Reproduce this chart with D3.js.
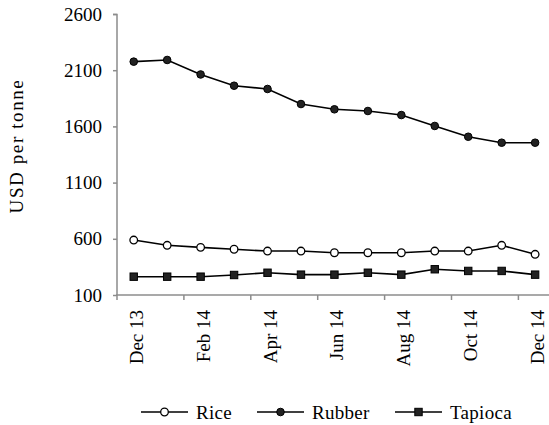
<!DOCTYPE html>
<html>
<head>
<meta charset="utf-8">
<script src="https://cdn.jsdelivr.net/npm/d3@7"></script>
<style>
  html, body { margin: 0; padding: 0; background: #fff; }
  svg { display: block; }
</style>
</head>
<body>
<svg id="chart" width="549" height="425"></svg>
<script>
const months = ["Dec 13","Jan 14","Feb 14","Mar 14","Apr 14","May 14","Jun 14","Jul 14","Aug 14","Sep 14","Oct 14","Nov 14","Dec 14"];
const rice = [589, 542, 524, 507, 491, 491, 476, 476, 476, 491, 491, 542, 462];
const rubber = [2176, 2191, 2062, 1962, 1933, 1799, 1752, 1737, 1701, 1604, 1508, 1455, 1455];
const tapioca = [263, 263, 263, 278, 298, 281, 281, 298, 281, 329, 314, 314, 281];
const yTicks = [100, 600, 1100, 1600, 2100, 2600];
const seriesNames = ["Rice", "Rubber", "Tapioca"];

const FONT = "'Liberation Serif', 'Times New Roman', Times, 'DejaVu Serif', serif";
const svg = d3.select("#chart");
const axisColor = "#8c8c8c";

const x = d3.scaleBand().domain(months).range([117, 117 + 13 * 33.45]);
const y = d3.scaleLinear().domain([100, 2600]).range([295, 14]);

// Y axis
const yAxis = d3.axisLeft(y).tickValues(yTicks).tickSize(4).tickPadding(11).tickFormat(d3.format("d"));
const gy = svg.append("g").attr("transform", "translate(117,0)").call(yAxis);
gy.attr("font-family", null);
gy.select(".domain").attr("stroke", axisColor).attr("stroke-width", 1.5).attr("d", "M-4,14.5H0V295");
gy.selectAll(".tick line").attr("stroke", axisColor).attr("stroke-width", 1.5);
gy.selectAll(".tick text").attr("font-size", 19).style("font-family", FONT).attr("fill", "#000");

// X axis
const boundaryIdx = [0, 2, 4, 6, 8, 10, 12];
const gx = svg.append("g");
gx.append("line").attr("x1", 116).attr("x2", 549).attr("y1", 295).attr("y2", 295)
  .attr("stroke", axisColor).attr("stroke-width", 1.5);
gx.selectAll("line.tk").data(boundaryIdx).enter().append("line").attr("class", "tk")
  .attr("x1", d => x(months[d])).attr("x2", d => x(months[d]))
  .attr("y1", 295).attr("y2", 300).attr("stroke", axisColor).attr("stroke-width", 1.5);
gx.selectAll("text").data(boundaryIdx).enter().append("text")
  .attr("transform", d => `translate(${x(months[d]) + x.bandwidth() / 2 + 9},310) rotate(-90)`)
  .attr("text-anchor", "end")
  .attr("font-size", 19)
  .style("font-family", FONT)
  .text(d => months[d]);

// Y label
svg.append("text")
  .attr("transform", "translate(23,146) rotate(-90)")
  .attr("text-anchor", "middle")
  .attr("font-size", 19)
  .style("font-family", FONT)
  .attr("letter-spacing", 1.6)
  .text("USD per tonne");

const cx = m => x(m) + x.bandwidth() / 2;
const line = d3.line().x((d, i) => cx(months[i])).y(d => y(d));

function drawSeries(data, marker) {
  svg.append("path").datum(data).attr("d", line)
    .attr("fill", "none").attr("stroke", "#000").attr("stroke-width", 1.6);
  const g = svg.append("g");
  data.forEach((v, i) => drawMarker(g, marker, cx(months[i]), y(v)));
}
function drawMarker(g, marker, px, py) {
  if (marker === "open") {
    g.append("circle").attr("cx", px).attr("cy", py).attr("r", 3.8)
      .attr("fill", "#fff").attr("stroke", "#000").attr("stroke-width", 1.3);
  } else if (marker === "filled") {
    g.append("circle").attr("cx", px).attr("cy", py).attr("r", 3.8)
      .attr("fill", "#222").attr("stroke", "#000").attr("stroke-width", 1);
  } else {
    g.append("rect").attr("x", px - 3.7).attr("y", py - 3.7).attr("width", 7.4).attr("height", 7.4)
      .attr("fill", "#222").attr("stroke", "#000").attr("stroke-width", 1);
  }
}

drawSeries(rice, "open");
drawSeries(rubber, "filled");
drawSeries(tapioca, "square");

// Legend
const legend = [
  {name: seriesNames[0], marker: "open", x1: 141, tx: 196},
  {name: seriesNames[1], marker: "filled", x1: 257, tx: 312},
  {name: seriesNames[2], marker: "square", x1: 395, tx: 450}
];
const lg = svg.append("g");
legend.forEach(l => {
  lg.append("line").attr("x1", l.x1).attr("x2", l.x1 + 47).attr("y1", 412).attr("y2", 412)
    .attr("stroke", "#000").attr("stroke-width", 1.6);
  drawMarker(lg, l.marker, l.x1 + 23.5, 412);
  lg.append("text").attr("x", l.tx).attr("y", 418.5).attr("font-size", 19)
    .style("font-family", FONT).attr("letter-spacing", 0.3).text(l.name);
});
</script>
</body>
</html>
